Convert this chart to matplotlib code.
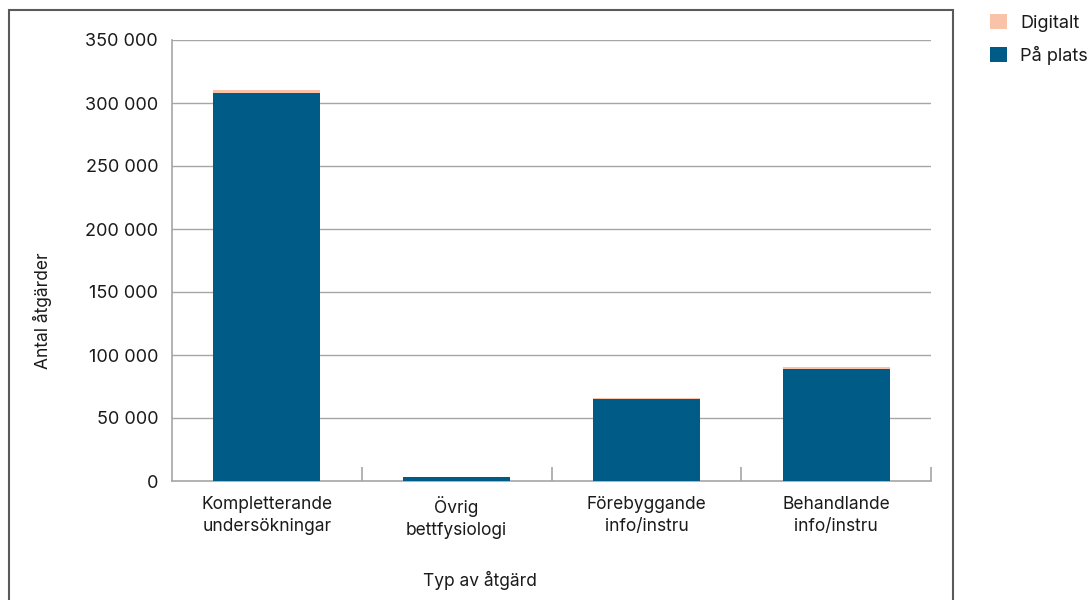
import matplotlib.pyplot as plt
import numpy as np
from matplotlib.patches import Rectangle

categories = ["Kompletterande\nundersökningar", "Övrig\nbettfysiologi",
              "Förebyggande\ninfo/instru", "Behandlande\ninfo/instru"]
pa_plats = [308000, 3200, 65000, 89000]
digitalt = [2000, 150, 1000, 1800]
yticks = [0, 50000, 100000, 150000, 200000, 250000, 300000, 350000]
ytick_labels = ["0", "50 000", "100 000", "150 000", "200 000", "250 000", "300 000", "350 000"]

plt.rcParams['font.family'] = ['Inter', 'DejaVu Sans']
plt.rcParams['text.color'] = '#1a1a1a'
plt.rcParams['xtick.labelcolor'] = '#1a1a1a'
plt.rcParams['ytick.labelcolor'] = '#1a1a1a'

blue = '#005b87'
peach = '#f9c3aa'
grid = '#a6a6a6'

fig = plt.figure(figsize=(10.88, 6), dpi=100)
W, H = 1088, 600
ax = fig.add_axes([172 / W, 1 - 481 / H, (931 - 172) / W, (481 - 40) / H])

x = np.arange(len(categories))
ax.bar(x, pa_plats, width=0.565, color=blue, label='På plats', zorder=3)
ax.bar(x, digitalt, bottom=pa_plats, width=0.565, color=peach, label='Digitalt', zorder=3)

ax.set_xlim(-0.5, len(categories) - 0.5)
ax.set_ylim(0, 350000)
ax.set_yticks(yticks)
ax.set_yticklabels(ytick_labels, fontsize=13)
for y in yticks[1:]:
    ax.axhline(y, color=grid, lw=1, zorder=1)

ax.set_xticks(x)
ax.set_xticklabels(categories, fontsize=12.5, linespacing=1.4)
ax.tick_params(axis='x', length=0, pad=11)
ax.tick_params(axis='y', length=0, pad=10)
# boundary tick marks
ax.set_xticks(np.arange(0.5, len(categories), 1.0), minor=True)
ax.tick_params(axis='x', which='minor', direction='in', length=10, color=grid, width=1.2)

for s in ['top', 'right']:
    ax.spines[s].set_visible(False)
ax.spines['left'].set_color(grid)
ax.spines['bottom'].set_color(grid)
ax.spines['left'].set_linewidth(1.2)
ax.spines['bottom'].set_linewidth(1.2)

fig.text(42 / W, 1 - 311 / H, 'Antal åtgärder', rotation=90, ha='center', va='center', fontsize=12.5)
fig.text(480 / W, 1 - 580 / H, 'Typ av åtgärd', ha='center', va='center', fontsize=12.5)

# outer frame
fig.patches.append(Rectangle((9 / W, -0.05), (953 - 9) / W, 1 - 10 / H + 0.05,
                             transform=fig.transFigure, fill=False,
                             edgecolor='#5a5a5a', lw=1.5))

# legend
handles, labels = ax.get_legend_handles_labels()
fig.legend(handles[::-1], labels[::-1], loc='upper left', bbox_to_anchor=(974 / W, 1 + 2 / H),
           frameon=False, fontsize=13, handlelength=0.9, handleheight=0.9,
           handletextpad=0.75, labelspacing=0.75)

fig.savefig('out.png', dpi=100)
